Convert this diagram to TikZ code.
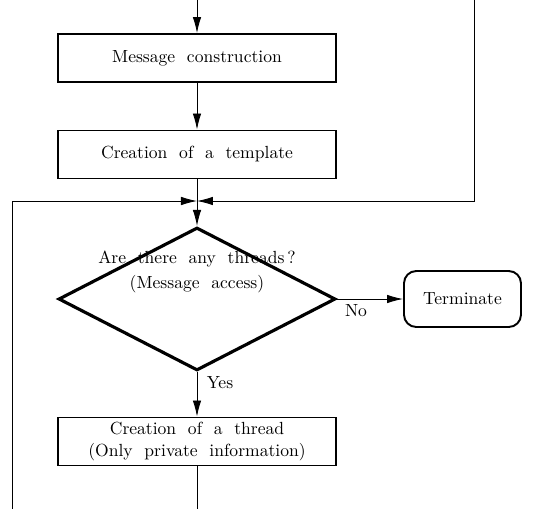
\documentclass[tikz,border=0pt]{standalone}
\usepackage{amsfonts, amsmath, amssymb}
\usepackage{tikz}
\usetikzlibrary{shapes.geometric, arrows.meta}

\begin{document}
\begin{tikzpicture}[>={Latex[length=3.2mm,width=1.7mm]}, line width=0.5pt,
	procbox/.style={draw, line width=1.1pt, minimum width=5.56cm, minimum height=0.96cm, inner sep=0pt, align=center},
	decbox/.style={draw, diamond, line width=1.8pt, minimum width=5.54cm, minimum height=2.86cm, inner sep=0pt},
	endbox/.style={draw, rounded corners=7pt, line width=1.1pt, minimum width=2.34cm, minimum height=1.12cm}]
	\useasboundingbox (0,0) rectangle (10.84,-10.18);
	\coordinate (in) at (3.94,0);
	\node[procbox] (msg) at (3.94,-1.16) {Message\ \ construction};
	\node[procbox] (tmpl) at (3.94,-3.09) {Creation\ \ of\ \ a\ \ template};
	\coordinate (j) at (3.94,-4.02);
	\node[decbox] (any) at (3.94,-5.98) {};
	\node[align=center, inner sep=0pt] (anytxt) at (3.94,-5.44) {Are\ \ there\ \ any\ \ threads\,?\\[2pt](Message\ \ access)};
	\node[endbox] (term) at (9.25,-5.98) {Terminate};
	\node (no) at (7.12,-6.22) {No};
	\node (yes) at (4.4,-7.66) {Yes};
	\node[procbox] (thr) at (3.94,-8.83) {Creation\ \ of\ \ a\ \ thread\\(Only\ \ private\ \ information)};
	\coordinate (lb) at (0.24,-10.18);
	\coordinate (lt) at (0.24,-4.02);
	\coordinate (rt) at (9.48,0);
	\coordinate (rb) at (9.48,-4.02);
	\coordinate (out) at (3.94,-10.18);
	\draw[->] (in)--(msg);
	\draw[->] (msg)--(tmpl);
	\draw[->] (tmpl)--(any.north);
	\draw[->] (lb)--(lt)--(j);
	\draw[->] (rt)--(rb)--(j);
	\draw[->] (any.east)--(term);
	\draw[->] (any.south)--(thr);
	\draw (thr)--(out);
\end{tikzpicture}
\end{document}
